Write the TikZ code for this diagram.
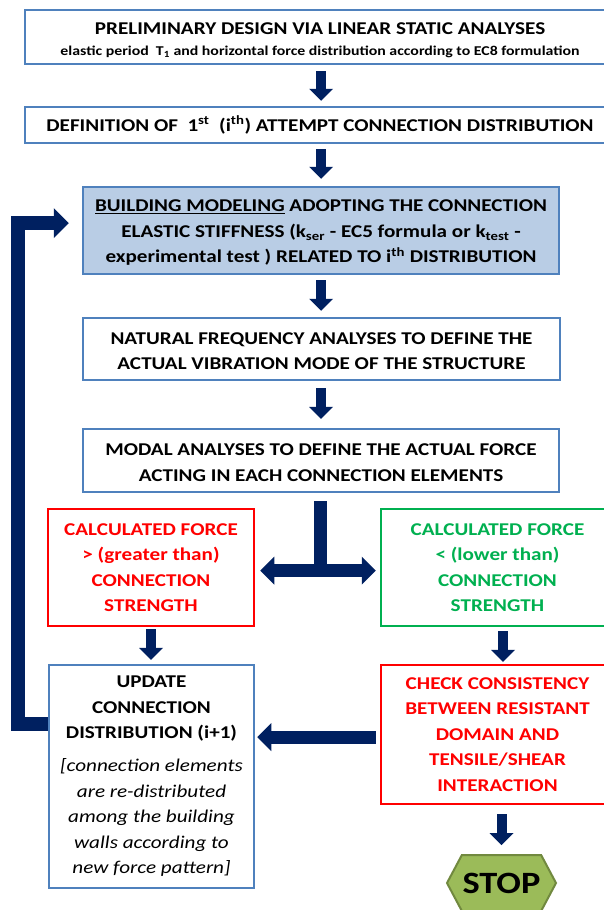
\documentclass[tikz,border=0pt]{standalone}
\usepackage{fontspec}
\setmainfont{Carlito}[FakeStretch=1.174]
\usetikzlibrary{arrows.meta,shapes.symbols,calc}
\definecolor{navy}{HTML}{002060}
\definecolor{bbord}{HTML}{4F81BD}
\definecolor{bfill}{HTML}{B9CDE5}
\definecolor{rred}{HTML}{FF0000}
\definecolor{ggreen}{HTML}{00B050}
\definecolor{stopfill}{HTML}{9BBB59}
\definecolor{stopdraw}{HTML}{71893F}
\newcommand\itl[1]{{\mdseries\itshape #1}}
\begin{document}
\begin{tikzpicture}[x=1pt,y=-1pt,
  box/.style={draw=bbord, line width=2.5pt, rectangle, inner sep=0pt, align=center,
    font=\fontsize{18}{25.5}\selectfont\bfseries},
  txt/.style={inner sep=0pt, align=center, font=\fontsize{18}{25.5}\selectfont\bfseries},
  redbox/.style={box, draw=rred, text=rred},
  grnbox/.style={box, draw=ggreen, text=ggreen},
  flow/.style={draw=navy, line width=10pt, -{Triangle[width=24pt,length=12pt,line width=0pt]}},
  fat/.style={draw=navy, line width=13pt},
  fattip/.style={-{Triangle[width=28pt,length=14pt,line width=0pt]}},
]
\clip (0,0) rectangle (604,910);
\fill[white] (0,0) rectangle (604,910);

\node[box, minimum width=590pt, minimum height=54pt] (b1) at (320,37) {};
\node[txt] (b1t) at (320,40) 
  {PRELIMINARY DESIGN VIA LINEAR STATIC ANALYSES\\[-4pt]
   {\fontsize{13.5}{16}\selectfont elastic period\ \ T\textsubscript{1} and horizontal force distribution according to EC8 formulation}};
\node[box, minimum width=590pt, minimum height=36pt] (b2) at (320,125)
  {DEFINITION OF\ \ 1\textsuperscript{st}\ \ (i\textsuperscript{th}) ATTEMPT CONNECTION DISTRIBUTION};
\node[box, fill=bfill, minimum width=476pt, minimum height=87pt] (bm) at (321,230.5) {};
\node[txt] (bmt) at (321,233)
  {\underline{BUILDING MODELING} ADOPTING THE CONNECTION\\
   ELASTIC STIFFNESS (k\textsubscript{ser} - EC5 formula or k\textsubscript{test} -\\
   experimental test ) RELATED TO i\textsuperscript{th} DISTRIBUTION};
\node[box, minimum width=477pt, minimum height=62pt] (b4) at (321.5,349) {};
\node[txt] (b4t) at (321.5,351)
  {NATURAL FREQUENCY ANALYSES TO DEFINE THE\\ ACTUAL VIBRATION MODE OF THE STRUCTURE};
\node[box, minimum width=476pt, minimum height=63pt] (b5) at (321,460.5) {};
\node[txt] (b5t) at (321,462.5)
  {MODAL ANALYSES TO DEFINE THE ACTUAL FORCE\\ ACTING IN EACH CONNECTION ELEMENTS};
\node[redbox, minimum width=206pt, minimum height=117pt] (red) at (151,567.5)
  {CALCULATED FORCE\\ > (greater than)\\ CONNECTION\\ STRENGTH};
\node[grnbox, minimum width=233pt, minimum height=117pt] (grn) at (497.5,567.5)
  {CALCULATED FORCE\\ < (lower than)\\ CONNECTION\\ STRENGTH};
\node[box, minimum width=205pt, minimum height=223pt] (upd) at (151.5,776.5)
  {UPDATE\\ CONNECTION\\ DISTRIBUTION (i+1)\\[7.5pt]
   \itl{[connection elements}\\ \itl{are re-distributed}\\ \itl{among the building}\\
   \itl{walls according to}\\ \itl{new force pattern]}};
\node[redbox, minimum width=233pt, minimum height=139pt] (chk) at (497.5,734.5)
  {CHECK CONSISTENCY\\ BETWEEN RESISTANT\\ DOMAIN AND\\ TENSILE/SHEAR\\ INTERACTION};
\node[signal, signal to=east and west, signal pointer angle=124, draw=stopdraw, fill=stopfill,
  line width=2pt, minimum width=109pt, minimum height=56pt, inner sep=0pt,
  font=\fontsize{31}{31}\selectfont\bfseries] (stop) at (501.5,883) {STOP};

% straight arrows
\draw[flow, shorten <=6pt, shorten >=5pt] (b1.south -| bm.north) -- (b2.north -| bm.north);
\draw[flow, shorten <=5pt, shorten >=7pt] (b2.south -| bm.north) -- (bm.north);
\draw[flow, shorten <=5pt, shorten >=6pt] (bm.south) -- (b4.north -| bm.south);
\draw[flow, shorten <=7pt, shorten >=9pt] (b4.south -| bm.south) -- (b5.north -| bm.south);
\draw[flow, shorten <=2pt, shorten >=4pt] (red.south) -- (upd.north -| red.south);
\draw[flow, shorten <=4pt, shorten >=2pt] ([xshift=5.5pt]grn.south) -- ([xshift=5.5pt]chk.north);
\draw[flow, shorten <=9pt, shorten >=9pt] (chk.south -| stop.north) -- (stop.north);

% branch
\coordinate (split) at (320.5,570.5);
\draw[fat, shorten <=8pt] (b5.south -| split) -- ([yshift=-6pt]split);
\draw[fat, {Triangle[width=28pt,length=14pt,line width=0pt]}-{Triangle[width=28pt,length=14pt,line width=0pt]},
  shorten <=5pt, shorten >=4pt] (split -| red.east) -- (split -| grn.west);

% check -> update
\draw[fat, fattip, shorten <=4pt, shorten >=2pt] ([yshift=-2.5pt]chk.west) -- ([yshift=-2.5pt]chk.west -| upd.east);

% feedback loop
\coordinate (fbx) at (18,223);
\draw[draw=navy, line width=13.5pt, -{Triangle[width=30pt,length=15pt,line width=0pt]}, shorten >=13pt]
  (upd.west |- 0,724) -- (fbx |- 0,724) -- (fbx) -- (fbx -| bm.west);
\end{tikzpicture}
\end{document}
